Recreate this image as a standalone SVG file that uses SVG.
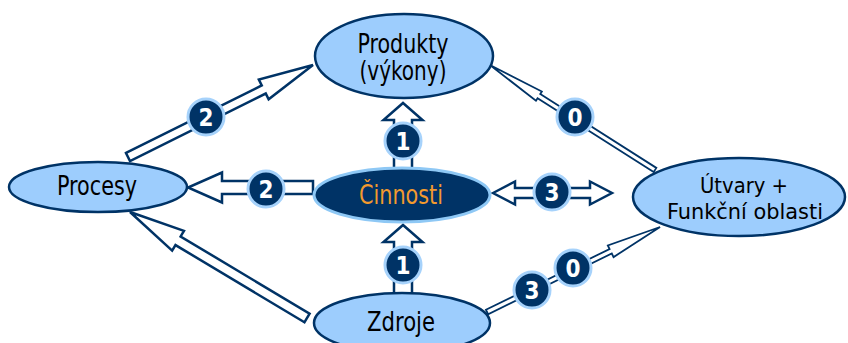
<svg xmlns="http://www.w3.org/2000/svg" width="848" height="343" viewBox="0 0 848 343">
<style>
.arr{fill:#ffffff;stroke:#003366;stroke-width:2.5;stroke-linejoin:miter}
.thin{fill:#ffffff;stroke:#003366;stroke-width:1.8}
.node{fill:#9dcdfd;stroke:#003366;stroke-width:2.5}
.dark{fill:#003366;stroke:#8ec8f5;stroke-width:3}
.lbl{font-family:"DejaVu Sans Condensed","DejaVu Sans",sans-serif;font-size:26px;fill:#000000;text-anchor:middle}
.sm{font-size:22px}
.org{fill:#f39a2e}
.badge circle{fill:#003366;stroke:#a6d2fb;stroke-width:3}
.badge text{font-family:"DejaVu Sans Condensed","DejaVu Sans",sans-serif;font-weight:bold;font-size:24px;fill:#ffffff;text-anchor:middle}
</style>
<rect width="848" height="343" fill="#ffffff"/>
<g id="connectors">
<polygon class="arr" transform="translate(128,157) rotate(-26.44)" points="0,-4.5 151.6,-4.5 151.6,-11 206.6,0 151.6,11 151.6,4.5 0,4.5"/>
<polygon class="arr" transform="translate(307,318) rotate(-149.08)" points="0,-5 150.3,-5 150.3,-11.5 206.3,0 150.3,11.5 150.3,5 0,5"/>
<polygon class="arr" points="313,181 222,181 222,172.5 188,187.5 222,202.5 222,194 313,194"/>
<polygon class="arr" points="493,193 515,181.5 515,188 590,188 590,181.5 612,193 590,204.5 590,198 515,198 515,204.5"/>
<polygon class="arr" points="394,170 394,120 383.5,120 403,103 422.5,120 412,120 412,170"/>
<polygon class="arr" points="394,295 394,242 383.5,242 403,225 422.5,242 412,242 412,295"/>
<polygon class="thin" transform="translate(655,170) rotate(-147.53)" points="0,-2.5 137.6,-2.5 137.6,-5.5 195.6,0 137.6,5.5 137.6,2.5 0,2.5"/>
<polygon class="thin" transform="translate(487,312) rotate(-26.16)" points="0,-2.5 137.8,-2.5 137.8,-6.5 192.8,0 137.8,6.5 137.8,2.5 0,2.5"/>
</g>
<g id="produkty">
<ellipse class="node" cx="404" cy="56" rx="89" ry="42"/>
<text class="lbl" x="403" y="53" textLength="91" lengthAdjust="spacingAndGlyphs">Produkty</text>
<text class="lbl" x="403" y="80" textLength="87" lengthAdjust="spacingAndGlyphs">(výkony)</text>
</g>
<g id="procesy">
<ellipse class="node" cx="98" cy="187" rx="89" ry="25"/>
<text class="lbl" x="97" y="195" textLength="80" lengthAdjust="spacingAndGlyphs">Procesy</text>
</g>
<g id="cinnosti">
<ellipse class="dark" cx="402" cy="195" rx="88" ry="27"/>
<text class="lbl org" x="401" y="204" textLength="84" lengthAdjust="spacingAndGlyphs">Činnosti</text>
</g>
<g id="utvary">
<ellipse class="node" cx="739" cy="197" rx="106" ry="39"/>
<text class="lbl sm" x="744" y="193" textLength="88" lengthAdjust="spacingAndGlyphs">Útvary +</text>
<text class="lbl sm" x="745" y="219" textLength="156" lengthAdjust="spacingAndGlyphs">Funkční oblasti</text>
</g>
<g id="zdroje">
<ellipse class="node" cx="402" cy="323" rx="88" ry="30"/>
<text class="lbl" x="401" y="331" textLength="68" lengthAdjust="spacingAndGlyphs">Zdroje</text>
</g>
<g id="badges">
<g class="badge"><circle cx="206" cy="117" r="18"/><text x="206" y="126">2</text></g>
<g class="badge"><circle cx="575" cy="117" r="18"/><text x="575" y="126">0</text></g>
<g class="badge"><circle cx="403" cy="141" r="18"/><text x="403" y="150">1</text></g>
<g class="badge"><circle cx="266" cy="189" r="18"/><text x="266" y="198">2</text></g>
<g class="badge"><circle cx="552" cy="192" r="18"/><text x="552" y="201">3</text></g>
<g class="badge"><circle cx="403" cy="265" r="18"/><text x="403" y="274">1</text></g>
<g class="badge"><circle cx="532" cy="290" r="18"/><text x="532" y="299">3</text></g>
<g class="badge"><circle cx="573" cy="268" r="18"/><text x="573" y="277">0</text></g>
</g>
</svg>
